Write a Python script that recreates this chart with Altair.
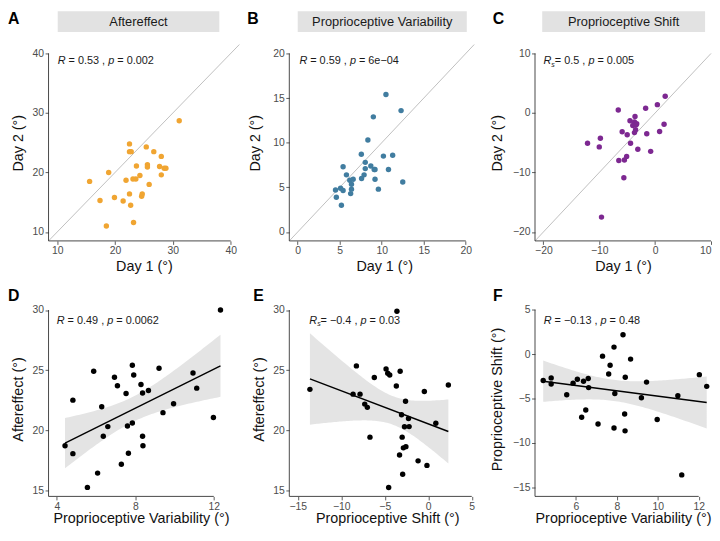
import altair as alt
import numpy as np
import pandas as pd

FONT = "Liberation Sans"
TXT = "#1a1a1a"

# ---------------- data ----------------
# A: Aftereffect, day 1 vs day 2 (deg)
ae_day1 = [31.1, 22.5, 22.5, 22.8, 25.4, 26.7, 28.0, 23.7, 25.6, 25.6, 27.7, 28.5, 28.8, 28.0, 24.3,
           23.1, 23.6, 21.9, 18.9, 15.6, 25.9, 22.5, 24.7, 24.6, 17.4, 19.9, 21.4, 22.7, 18.5, 23.2]
ae_day2 = [28.7, 24.8, 23.5, 23.5, 24.3, 23.5, 22.7, 21.1, 21.3, 20.9, 21.0, 20.7, 20.7, 19.6, 19.5,
           18.9, 18.9, 18.7, 20.0, 18.5, 18.0, 16.4, 16.4, 16.0, 15.3, 15.8, 15.2, 14.5, 11.0, 11.6]
# B: Proprioceptive variability, day 1 vs day 2
pv_day1 = [10.5, 12.3, 9.0, 8.35, 7.57, 10.2, 11.3, 8.04, 8.7, 8.04, 9.1, 9.2, 10.8, 5.4, 5.8,
           7.9, 7.6, 9.2, 6.2, 6.6, 6.4, 12.5, 4.5, 5.1, 5.4, 6.4, 9.6, 6.3, 4.6, 5.2]
pv_day2 = [15.4, 13.6, 12.9, 10.3, 8.7, 8.5, 8.6, 7.8, 7.4, 7.1, 7.0, 7.0, 7.0, 7.3, 6.4,
           6.4, 6.0, 5.9, 5.8, 5.9, 5.35, 5.6, 4.7, 4.9, 4.65, 4.8, 4.8, 4.3, 3.9, 3.0]
# C: Proprioceptive shift, day 1 vs day 2
ps_day1 = [1.8, 0.4, -1.7, -6.6, -3.6, -4.5, -3.7, -3.3, -4.0, -3.4, -3.5, -3.7, 1.6, 0.8, -1.5,
           -5.9, -5.0, -9.8, -12.1, -10.0, -4.4, -3.1, -0.8, -5.1, -5.5, -6.5, -5.6, -9.6]
ps_day2 = [2.8, 1.4, 0.8, 0.5, -0.6, -1.3, -1.5, -1.8, -2.1, -2.0, -2.8, -3.3, -1.9, -3.1, -3.5,
           -3.15, -3.65, -4.26, -5.1, -5.7, -5.1, -6.1, -6.45, -7.3, -7.9, -8.0, -10.9, -17.5]
# D: Proprioceptive variability vs aftereffect
d_var = [12.34, 9.21, 7.85, 5.88, 7.92, 6.94, 10.94, 7.09, 8.29, 11.13, 7.53, 8.37, 8.67, 4.82, 6.29,
         9.95, 9.41, 11.98, 7.85, 7.60, 6.60, 6.37, 8.37, 8.39, 4.42, 4.82, 7.65, 7.29, 6.08, 5.56]
d_ae = [30.0, 25.16, 25.4, 24.9, 24.6, 24.4, 24.76, 23.7, 23.8, 23.5, 23.05, 23.1, 23.3, 22.5, 21.95,
        22.2, 21.46, 21.05, 20.6, 20.35, 20.3, 19.5, 19.5, 18.7, 18.7, 18.05, 18.08, 17.16, 16.43, 15.24]
# E: Proprioceptive shift vs aftereffect
e_shift = [-3.6, -8.26, -4.85, -4.66, -4.43, -3.23, -6.2, -3.67, 2.31, -0.45, -13.6, -8.64, -7.84, -2.61, -7.3,
           -7.0, -3.07, -2.27, 0.87, -2.73, -2.2, -6.7, -3.0, -2.86, -2.57, -3.3, -1.17, -0.15, -2.94, -4.55]
e_ae = [29.9, 25.35, 25.1, 24.74, 24.6, 24.9, 24.38, 23.68, 23.76, 23.22, 23.4, 23.0, 23.0, 22.41, 22.17,
        21.9, 21.28, 20.98, 20.58, 20.28, 20.3, 19.42, 19.42, 18.53, 18.63, 17.94, 17.45, 17.07, 16.34, 15.23]
# F: Proprioceptive variability vs proprioceptive shift
f_var = [8.3, 7.86, 7.3, 8.67, 7.67, 7.6, 12.03, 4.4, 4.79, 4.79, 5.86, 6.07, 6.37, 6.6, 6.62,
         8.41, 9.45, 12.39, 5.55, 7.9, 9.2, 10.98, 6.48, 6.28, 8.38, 9.97, 7.08, 7.86, 8.4, 11.17]
f_shift = [2.18, 0.79, -0.23, -0.56, -1.25, -2.24, -2.31, -2.97, -2.68, -3.37, -3.27, -2.83, -3.05, -2.75, -3.77,
           -2.61, -3.15, -3.63, -4.58, -4.43, -4.91, -4.69, -6.3, -7.1, -6.74, -7.36, -7.87, -8.31, -8.64, -13.6]

strip_titles = ["Aftereffect", "Proprioceptive Variability", "Proprioceptive Shift"]
panel_letters = ["A", "B", "C", "D", "E", "F"]
stat_texts = [
    [("R", "italic", None, 0), (" = 0.53 , ", "normal", None, 0), ("p", "italic", None, 0), (" = 0.002", "normal", None, 0)],
    [("R", "italic", None, 0), (" = 0.59 , ", "normal", None, 0), ("p", "italic", None, 0), (" = 6e\u221204", "normal", None, 0)],
    [("R", "italic", None, 0), ("s", "italic", 7, 2.5), ("= 0.5 , ", "normal", None, 0), ("p", "italic", None, 0), (" = 0.005", "normal", None, 0)],
    [("R", "italic", None, 0), (" = 0.49 , ", "normal", None, 0), ("p", "italic", None, 0), (" = 0.0062", "normal", None, 0)],
    [("R", "italic", None, 0), ("s", "italic", 7, 2.5), ("= \u22120.4 , ", "normal", None, 0), ("p", "italic", None, 0), (" = 0.03", "normal", None, 0)],
    [("R", "italic", None, 0), (" = \u22120.13 , ", "normal", None, 0), ("p", "italic", None, 0), (" = 0.48", "normal", None, 0)],
]

ONE = pd.DataFrame({"k": [0]})
W = {" ": .278, "=": .584, ".": .278, ",": .278, "\u2212": .584, "R": .722, "p": .556,
     "e": .556, "s": .5, "-": .333}


def tw(s, size):
    return sum(W.get(c, .556) for c in s) * size


def annot_layers(segments, x0, y0, size=11):
    layers = []
    x = x0
    for text, style, fsz, dy in segments:
        fs = fsz or size
        lead = len(text) - len(text.lstrip(" "))
        body = text.strip(" ")
        if body:
            layers.append(
                alt.Chart(ONE).mark_text(text=body, align="left", baseline="alphabetic", font=FONT,
                                         fontSize=fs, fontStyle=style, color=TXT)
                .encode(x=alt.value(x + lead * W[" "] * fs), y=alt.value(y0 + dy)))
        x += tw(text, fs)
    return layers


def ci_band(xs, ys):
    x = np.asarray(xs, float)
    y = np.asarray(ys, float)
    n = len(x)
    b1, b0 = np.polyfit(x, y, 1)
    res = y - (b0 + b1 * x)
    s = np.sqrt((res ** 2).sum() / (n - 2))
    xm = x.mean()
    sxx = ((x - xm) ** 2).sum()
    t = 1.96 + 2.4 / (n - 2)
    g = np.linspace(x.min(), x.max(), 80)
    se = s * np.sqrt(1.0 / n + (g - xm) ** 2 / sxx)
    fit = b0 + b1 * g
    return pd.DataFrame({"x": g, "lo": fit - t * se, "hi": fit + t * se})


def panel(xs, ys, color, xdom, ydom, xticks, yticks, w, h, xtitle, ytitle, ytp, xtp,
          letter, letter_xy, stat, stat_xy, strip=None, diag=False, reg=False, xflush=False):
    df = pd.DataFrame({"x": xs, "y": ys})
    xscale = alt.Scale(domain=xdom, nice=False, zero=False)
    yscale = alt.Scale(domain=ydom, nice=False, zero=False)
    xaxis = alt.Axis(values=xticks, title=xtitle, titlePadding=xtp,
                     labelFlush=(6 if xflush else False))
    yaxis = alt.Axis(values=yticks, title=ytitle, titlePadding=ytp, labelFlush=False)

    def X(f):
        return alt.X(f, type="quantitative", scale=xscale, axis=xaxis)

    def Y(f):
        return alt.Y(f, type="quantitative", scale=yscale, axis=yaxis)

    layers = []
    if reg:
        layers.append(alt.Chart(ci_band(xs, ys)).mark_area(color="#e4e4e4")
                      .encode(x=X("x"), y=Y("lo"), y2=alt.Y2("hi")))
    if diag:
        lo, hi = max(xdom[0], ydom[0]), min(xdom[1], ydom[1])
        ddf = pd.DataFrame({"x": [lo], "y": [lo], "x2": [hi], "y2": [hi]})
        layers.append(alt.Chart(ddf).mark_rule(color="#b8b8b8", strokeWidth=0.9)
                      .encode(x=X("x"), y=Y("y"), x2=alt.X2("x2"), y2=alt.Y2("y2")))
    if reg:
        layers.append(alt.Chart(df).transform_regression("x", "y")
                      .mark_line(color="black", strokeWidth=1.4)
                      .encode(x=X("x"), y=Y("y")))
    layers.append(alt.Chart(df).mark_circle(color=color, opacity=1, size=30)
                  .encode(x=X("x"), y=Y("y")))
    # range-frame axis lines (from the corner to the last tick)
    xl = pd.DataFrame({"x": [xdom[0]], "x2": [xticks[-1]], "y": [ydom[0]]})
    layers.append(alt.Chart(xl).mark_rule(color="#333333", strokeWidth=0.9)
                  .encode(x=X("x"), x2=alt.X2("x2"), y=Y("y")))
    yl = pd.DataFrame({"x": [xdom[0]], "y": [ydom[0]], "y2": [yticks[-1]]})
    layers.append(alt.Chart(yl).mark_rule(color="#333333", strokeWidth=0.9)
                  .encode(x=X("x"), y=Y("y"), y2=alt.Y2("y2")))
    if strip:
        title, sx0, sx1 = strip
        layers.append(alt.Chart(ONE).mark_rect(color="#e2e2e2")
                      .encode(x=alt.value(sx0), x2=alt.value(sx1), y=alt.value(-33.7), y2=alt.value(-12.7)))
        layers.append(alt.Chart(ONE).mark_text(text=title, align="center", baseline="middle", font=FONT,
                                               fontSize=13, color=TXT)
                      .encode(x=alt.value((sx0 + sx1) / 2), y=alt.value(-22.7)))
    layers.append(alt.Chart(ONE).mark_text(text=letter, align="left", baseline="top", font=FONT,
                                           fontSize=16, fontWeight="bold", color="black")
                  .encode(x=alt.value(letter_xy[0]), y=alt.value(letter_xy[1])))
    layers += annot_layers(stat, stat_xy[0], stat_xy[1])
    return alt.layer(*layers).properties(width=w, height=h)


TOP_H = 198.6
BOT_H = 197
TOP_L = -33.7
BOT_L = -13.2

pA = panel(ae_day1, ae_day2, "#F0A532", [8.5, 41.5], [8.5, 41.5], [10, 20, 30, 40], [10, 20, 30, 40],
           193, TOP_H, "Day 1 (\u00b0)", "Day 2 (\u00b0)", 6.5, 3.5,
           panel_letters[0], (-41, TOP_L), stat_texts[0], (9.3, 20.0),
           strip=(strip_titles[0], 9.3, 172.7), diag=True)
pB = panel(pv_day1, pv_day2, "#417DA0", [-1, 21.59], [-1, 21], [0, 5, 10, 15, 20], [0, 5, 10, 15, 20],
           192, TOP_H, "Day 1 (\u00b0)", "Day 2 (\u00b0)", 10, 3.5,
           panel_letters[1], (-42.5, TOP_L), stat_texts[1], (10.2, 20.0),
           strip=(strip_titles[1], 8.5, 179.5), diag=True)
pC = panel(ps_day1, ps_day2, "#7D2891", [-21.5, 10.0], [-21.5, 11.5], [-20, -10, 0, 10], [-20, -10, 0, 10],
           178, TOP_H, "Day 1 (\u00b0)", "Day 2 (\u00b0)", 8, 3.5,
           panel_letters[2], (-42.7, TOP_L), stat_texts[2], (8.6, 20.0),
           strip=(strip_titles[2], 7.3, 172), diag=True, xflush=True)
pD = panel(d_var, d_ae, "black", [3.58, 13.0], [14.49, 30.7], [4, 8, 12], [15, 20, 25, 30],
           187, BOT_H, "Proprioceptive Variability (\u00b0)", "Aftereffect (\u00b0)", 6.5, 0,
           panel_letters[3], (-41, BOT_L), stat_texts[3], (8.3, 23.0), reg=True)
pE = panel(e_shift, e_ae, "black", [-15.97, 6.53], [14.49, 30.7], [-15, -10, -5, 0, 5], [15, 20, 25, 30],
           198, BOT_H, "Proprioceptive Shift (\u00b0)", "Aftereffect (\u00b0)", 6.5, 0,
           panel_letters[4], (-36.5, BOT_L), stat_texts[4], (20.2, 22.5), reg=True)
pF = panel(f_var, f_shift, "black", [4.0, 12.6], [-16.02, 5.91], [6, 8, 10, 12], [-15, -10, -5, 0, 5],
           178, BOT_H, "Proprioceptive Variability (\u00b0)", "Proprioceptive Shift (\u00b0)", 8.5, 0,
           panel_letters[5], (-42.5, BOT_L), stat_texts[5], (8.8, 22.5), reg=True)

chart = alt.concat(pA, pB, pC, pD, pE, pF, columns=3,
                   spacing={"row": 61, "column": 50.5}, bounds="flush", align="none").properties(
    padding=0
).configure_view(stroke=None).configure_axis(
    domain=False, grid=False, ticks=True, tickSize=3.5, tickColor="#333333", tickWidth=0.8,
    labelFont=FONT, labelFontSize=10.5, labelColor="#4d4d4d", labelPadding=1.5, labelOverlap=False,
    titleFont=FONT, titleFontSize=14.5, titleFontWeight="normal", titleColor="#111111"
)

chart.save("out.html", embed_options={"renderer": "svg", "actions": False})
